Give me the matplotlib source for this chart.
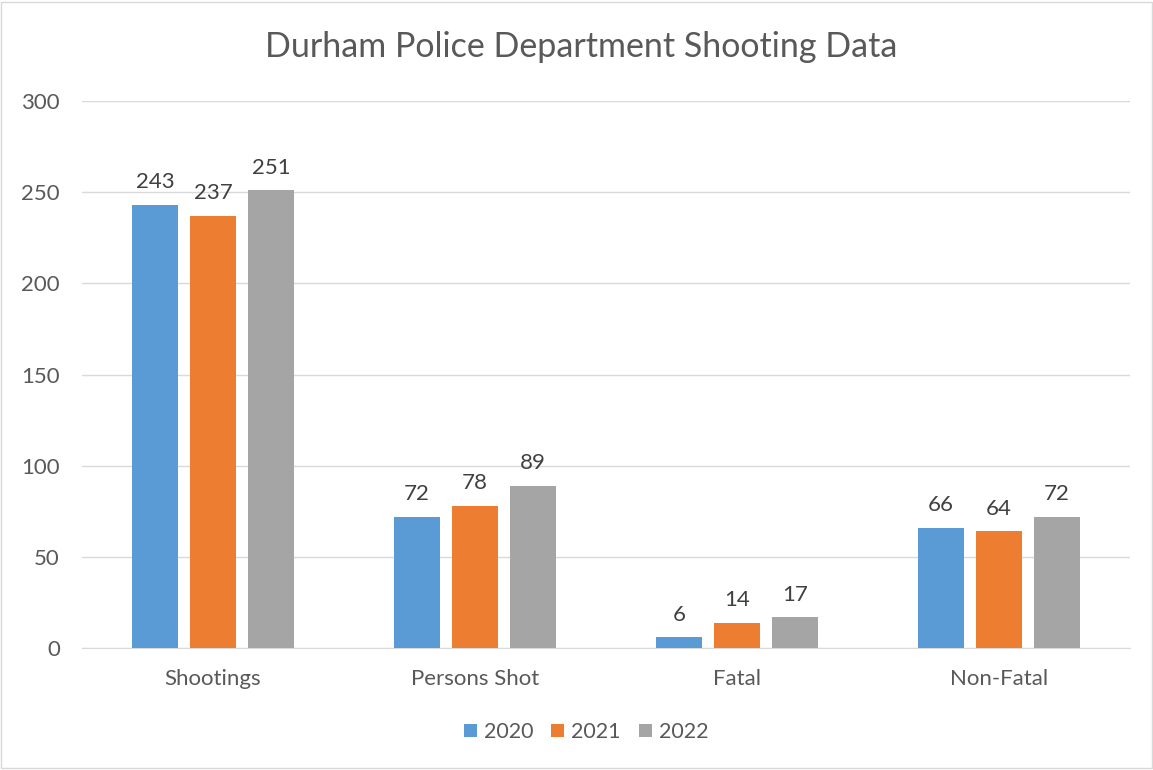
import numpy as np
import matplotlib.pyplot as plt
from matplotlib.patches import Rectangle

categories = ["Shootings", "Persons Shot", "Fatal", "Non-Fatal"]
years = ["2020", "2021", "2022"]
v2020 = [243, 72, 6, 66]
v2021 = [237, 78, 14, 64]
v2022 = [251, 89, 17, 72]
series = [v2020, v2021, v2022]
colors = ["#5B9BD5", "#ED7D31", "#A5A5A5"]

plt.rcParams['font.family'] = ['Lato', 'DejaVu Sans']
txt = "#595959"

fig = plt.figure(figsize=(11.53, 7.70), dpi=100)
ax = fig.add_axes([0.0711, 0.1584, 0.9089, 0.7104])

x = np.arange(len(categories))
w = 0.176
step = 0.221
for i, vals in enumerate(series):
    pos = x + (i - 1) * step
    ax.bar(pos, vals, width=w, color=colors[i], label=years[i], zorder=3)
    for p, v in zip(pos, vals):
        ax.annotate(str(v), (p, v), xytext=(0, 9), textcoords="offset points",
                    ha="center", va="bottom", fontsize=16, color="#404040")

ax.set_xlim(-0.5, len(categories) - 0.5)
ax.set_ylim(0, 300)
ax.set_yticks(range(0, 301, 50))
ax.set_xticks(x)
ax.set_xticklabels(categories)
ax.tick_params(axis="both", length=0, labelsize=16, labelcolor=txt)
ax.tick_params(axis="x", pad=15)
ax.tick_params(axis="y", pad=16)
ax.yaxis.grid(True, color="#D9D9D9", linewidth=1, zorder=0)
for s in ["top", "right", "left"]:
    ax.spines[s].set_visible(False)
ax.spines["bottom"].set_color("#D9D9D9")

fig.text(581 / 1153, 1 - 47 / 770, "Durham Police Department Shooting Data", ha="center", va="center",
         fontsize=24.5, color=txt)

handles, labels = ax.get_legend_handles_labels()
leg = fig.legend(handles, labels, loc="center", bbox_to_anchor=(586 / 1153, 1 - 732 / 770), ncol=3,
                 frameon=False, fontsize=15.5, handlelength=0.6, handleheight=0.6, columnspacing=0.85,
                 handletextpad=0.32)
for t in leg.get_texts():
    t.set_color(txt)

fig.patches.append(Rectangle((0.001, 0.002), 0.998, 0.996, transform=fig.transFigure,
                             fill=False, edgecolor="#D9D9D9", linewidth=1))

fig.savefig("out.png", dpi=100)
